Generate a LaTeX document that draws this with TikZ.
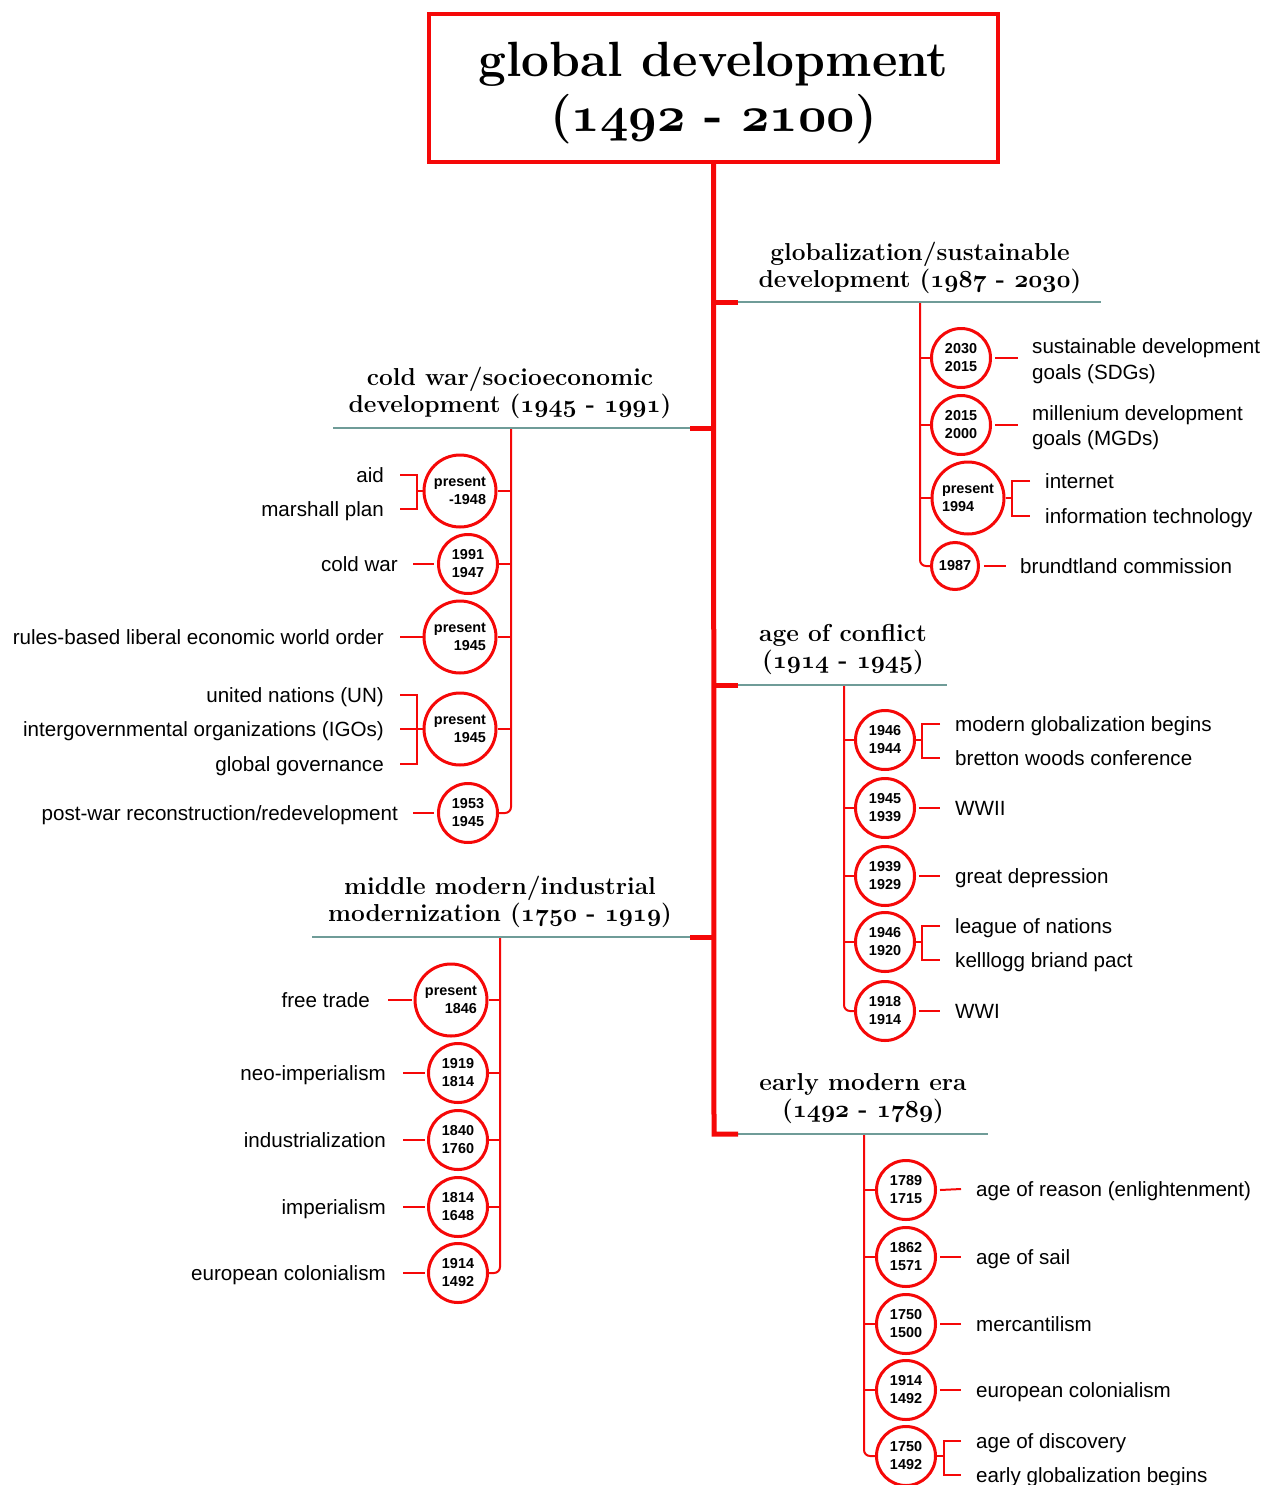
\documentclass[tikz,border=0pt]{standalone}
\usepackage{fix-cm}
\usepackage{fontspec}
\newfontfamily\bodyf{Liberation Sans}
\definecolor{tlred}{rgb}{0.96,0.03,0.03}
\definecolor{tlteal}{HTML}{6F9C98}
\newcommand\osn[1]{{\usefont{OML}{cmm}{b}{it}#1}}
\tikzset{
  trunk/.style={draw=tlred, line width=5pt},
  sub/.style={draw=tlred, line width=2pt},
  rulel/.style={draw=tlteal, line width=2.5pt},
  yrs/.style={circle, draw=tlred, line width=3pt, inner sep=0pt, minimum size=59pt, align=center, font=\bodyf\bfseries\fontsize{14.4}{18}\selectfont},
  yrl/.style={yrs, minimum size=72pt},
  yrt/.style={yrs, minimum size=47pt},
  lbl/.style={inner sep=0pt, text height=16.5pt, text depth=2pt, font=\bodyf\fontsize{20.6}{24}\selectfont},
  head/.style={inner sep=0pt, align=center, font=\bfseries\fontsize{24.5}{27}\selectfont},
}
\begin{document}
\begin{tikzpicture}[x=1pt,y=-1pt]
\useasboundingbox (0,0) rectangle (1263,1485);

% title
\node[draw=tlred, line width=4pt, minimum width=569pt, minimum height=148pt, inner sep=0pt] (title) at (713.5,88) {};
\node[align=center, inner sep=0pt, font=\bfseries\fontsize{49.5}{55}\selectfont] (titletxt) at (title.center)
  [yshift=-5pt] {global development\\(\osn{1492} - \osn{2100})};

% trunk junctions
\coordinate (j1) at (714,302);  \coordinate (s1) at (738,302);
\coordinate (j2) at (714,428);  \coordinate (s2) at (690,428);
\coordinate (j3) at (714,685);  \coordinate (s3) at (738,685);
\coordinate (j4) at (714,937);  \coordinate (s4) at (690,937);
\coordinate (j5) at (714,1134); \coordinate (s5) at (738,1134);
\coordinate (e1) at (1101,302);
\coordinate (e2) at (333,428);
\coordinate (e3) at (947,685);
\coordinate (e4) at (312,937);
\coordinate (e5) at (988,1134);

\draw[rulel] (s1) -- (e1);
\draw[rulel] (s2) -- (e2);
\draw[rulel] (s3) -- (e3);
\draw[rulel] (s4) -- (e4);
\draw[rulel] (s5) -- (e5);

\draw[trunk] (title.south) -- (j5) -- (s5);
\draw[trunk] (j1) -- (s1);
\draw[trunk] (j2) -- (s2);
\draw[trunk] (j3) -- (s3);
\draw[trunk] (j4) -- (s4);

% headings
\node[head] (h1) at (920,268) {globalization/sustainable\\development (\osn{1987} - \osn{2030})};
\node[head] (h2) at (510,393) {cold war/socioeconomic\\development (\osn{1945} - \osn{1991})};
\node[head] (h3) at (843,649) {age of conflict\\(\osn{1914} - \osn{1945})};
\node[head] (h4) at (500,902) {middle modern/industrial\\modernization (\osn{1750} - \osn{1919})};
\node[head] (h5) at (863,1099) {early modern era\\(\osn{1492} - \osn{1789})};

% ---------- group 1: globalization ----------
\coordinate (v1) at (920,303);
\node[yrs] (c11) at (961,358) {2030\\2015};
\node[yrs] (c12) at (961,425) {2015\\2000};
\node[yrl, align=left] (c13) at (968,498) {present\\1994};
\node[yrt] (c14) at (955,566) {1987};
\draw[sub, rounded corners=6pt] (v1) |- (c14.west);
\draw[sub] (v1 |- c11.west) -- (c11.west);
\draw[sub] (v1 |- c12.west) -- (c12.west);
\draw[sub] (v1 |- c13.west) -- (c13.west);

\node[lbl, anchor=west] (t11a) at (1032,346) {sustainable development};
\node[lbl, anchor=west] (t11b) at (1032,372) {goals (SDGs)};
\node[lbl, anchor=west] (t12a) at (1032,413) {millenium development};
\node[lbl, anchor=west] (t12b) at (1032,438) {goals (MGDs)};
\node[lbl, anchor=west] (t13a) at (1045,481) {internet};
\node[lbl, anchor=west] (t13b) at (1045,516) {information technology};
\node[lbl, anchor=west] (t14) at (1020,566) {brundtland commission};

\draw[sub] ([xshift=3pt]c11.east) -- ([xshift=-14pt]t11a.west |- c11.east);
\draw[sub] ([xshift=3pt]c12.east) -- ([xshift=-14pt]t12a.west |- c12.east);
\coordinate (k13) at (1012,498);
\draw[sub] (c13.east) -- (k13);
\draw[sub] ([xshift=-15pt]t13a.west) -| (k13) |- ([xshift=-15pt]t13b.west);
\draw[sub] ([xshift=4pt]c14.east) -- ([xshift=-14pt]t14.west);

% ---------- group 2: cold war ----------
\coordinate (v2) at (511,429);
\node[yrl, align=right] (c21) at (460,491) {present\\-1948};
\node[yrs] (c22) at (468,564) {1991\\1947};
\node[yrl, align=right] (c23) at (460,637) {present\\1945};
\node[yrl, align=right] (c24) at (460,729) {present\\1945};
\node[yrs] (c25) at (468,813) {1953\\1945};
\draw[sub, rounded corners=6pt] (v2) |- (c25.east);
\draw[sub] (v2 |- c21.east) -- (c21.east);
\draw[sub] (v2 |- c22.east) -- (c22.east);
\draw[sub] (v2 |- c23.east) -- (c23.east);
\draw[sub] (v2 |- c24.east) -- (c24.east);

\node[lbl, anchor=east] (t21a) at (384,475) {aid};
\node[lbl, anchor=east] (t21b) at (384,509) {marshall plan};
\node[lbl, anchor=east] (t22) at (398,564) {cold war};
\node[lbl, anchor=east] (t23) at (384,637) {rules-based liberal economic world order};
\node[lbl, anchor=east] (t24a) at (384,695) {united nations (UN)};
\node[lbl, anchor=east] (t24b) at (384,729) {intergovernmental organizations (IGOs)};
\node[lbl, anchor=east] (t24c) at (384,764) {global governance};
\node[lbl, anchor=east] (t25) at (398,813) {post-war reconstruction/redevelopment};

\coordinate (k21) at (417,491);
\draw[sub] (k21) -- (c21.west);
\draw[sub] ([xshift=16pt]t21a.east) -| (k21) |- ([xshift=16pt]t21b.east);
\draw[sub] ([xshift=15pt]t22.east) -- ([xshift=-3pt]c22.west);
\draw[sub] ([xshift=16pt]t23.east) -- (c23.west);
\coordinate (k24) at (417,729);
\draw[sub] ([xshift=16pt]t24b.east) -- (c24.west);
\draw[sub] ([xshift=16pt]t24a.east) -| (k24) |- ([xshift=16pt]t24c.east);
\draw[sub] ([xshift=15pt]t25.east) -- ([xshift=-3pt]c25.west);

% ---------- group 3: age of conflict ----------
\coordinate (v3) at (844,686);
\node[yrs] (c31) at (885,740) {1946\\1944};
\node[yrs] (c32) at (885,808) {1945\\1939};
\node[yrs] (c33) at (885,876) {1939\\1929};
\node[yrs] (c34) at (885,942) {1946\\1920};
\node[yrs] (c35) at (885,1011) {1918\\1914};
\draw[sub, rounded corners=6pt] (v3) |- (c35.west);
\draw[sub] (v3 |- c31.west) -- (c31.west);
\draw[sub] (v3 |- c32.west) -- (c32.west);
\draw[sub] (v3 |- c33.west) -- (c33.west);
\draw[sub] (v3 |- c34.west) -- (c34.west);

\node[lbl, anchor=west] (t31a) at (955,724) {modern globalization begins};
\node[lbl, anchor=west] (t31b) at (955,758) {bretton woods conference};
\node[lbl, anchor=west] (t32) at (955,808) {WWII};
\node[lbl, anchor=west] (t33) at (955,876) {great depression};
\node[lbl, anchor=west] (t34a) at (955,926) {league of nations};
\node[lbl, anchor=west] (t34b) at (955,960) {kelllogg briand pact};
\node[lbl, anchor=west] (t35) at (955,1011) {WWI};

\coordinate (k31) at (922,740);
\draw[sub] (c31.east) -- (k31);
\draw[sub] ([xshift=-15pt]t31a.west) -| (k31) |- ([xshift=-15pt]t31b.west);
\draw[sub] ([xshift=3pt]c32.east) -- ([xshift=-15pt]t32.west);
\draw[sub] ([xshift=3pt]c33.east) -- ([xshift=-15pt]t33.west);
\coordinate (k34) at (922,942);
\draw[sub] (c34.east) -- (k34);
\draw[sub] ([xshift=-15pt]t34a.west) -| (k34) |- ([xshift=-15pt]t34b.west);
\draw[sub] ([xshift=3pt]c35.east) -- ([xshift=-15pt]t35.west);

% ---------- group 4: middle modern ----------
\coordinate (v4) at (500,938);
\node[yrl, align=right] (c41) at (451,1000) {present\\1846};
\node[yrs] (c42) at (458,1073) {1919\\1814};
\node[yrs] (c43) at (458,1140) {1840\\1760};
\node[yrs] (c44) at (458,1207) {1814\\1648};
\node[yrs] (c45) at (458,1273) {1914\\1492};
\draw[sub, rounded corners=6pt] (v4) |- (c45.east);
\draw[sub] (v4 |- c41.east) -- (c41.east);
\draw[sub] (v4 |- c42.east) -- (c42.east);
\draw[sub] (v4 |- c43.east) -- (c43.east);
\draw[sub] (v4 |- c44.east) -- (c44.east);

\node[lbl, anchor=east] (t41) at (370,1000) {free trade};
\node[lbl, anchor=east] (t42) at (386,1073) {neo-imperialism};
\node[lbl, anchor=east] (t43) at (386,1140) {industrialization};
\node[lbl, anchor=east] (t44) at (386,1207) {imperialism};
\node[lbl, anchor=east] (t45) at (386,1273) {european colonialism};

\draw[sub] ([xshift=18pt]t41.east) -- ([xshift=-2pt]c41.west);
\draw[sub] ([xshift=17pt]t42.east) -- ([xshift=-2pt]c42.west);
\draw[sub] ([xshift=17pt]t43.east) -- ([xshift=-2pt]c43.west);
\draw[sub] ([xshift=17pt]t44.east) -- ([xshift=-2pt]c44.west);
\draw[sub] ([xshift=17pt]t45.east) -- ([xshift=-2pt]c45.west);

% ---------- group 5: early modern ----------
\coordinate (v5) at (864,1135);
\node[yrs] (c51) at (906,1190) {1789\\1715};
\node[yrs] (c52) at (906,1257) {1862\\1571};
\node[yrs] (c53) at (906,1324) {1750\\1500};
\node[yrs] (c54) at (906,1390) {1914\\1492};
\node[yrs] (c55) at (906,1456) {1750\\1492};
\draw[sub, rounded corners=6pt] (v5) |- (c55.west);
\draw[sub] (v5 |- c51.west) -- (c51.west);
\draw[sub] (v5 |- c52.west) -- (c52.west);
\draw[sub] (v5 |- c53.west) -- (c53.west);
\draw[sub] (v5 |- c54.west) -- (c54.west);

\node[lbl, anchor=west] (t51) at (976,1189) {age of reason (enlightenment)};
\node[lbl, anchor=west] (t52) at (976,1257) {age of sail};
\node[lbl, anchor=west] (t53) at (976,1324) {mercantilism};
\node[lbl, anchor=west] (t54) at (976,1390) {european colonialism};
\node[lbl, anchor=west] (t55a) at (976,1441) {age of discovery};
\node[lbl, anchor=west] (t55b) at (976,1475) {early globalization begins};

\draw[sub] ([xshift=3pt]c51.east) -- ([xshift=-15pt]t51.west);
\draw[sub] ([xshift=3pt]c52.east) -- ([xshift=-15pt]t52.west);
\draw[sub] ([xshift=3pt]c53.east) -- ([xshift=-15pt]t53.west);
\draw[sub] ([xshift=3pt]c54.east) -- ([xshift=-15pt]t54.west);
\coordinate (k55) at (944,1456);
\draw[sub] (c55.east) -- (k55);
\draw[sub] ([xshift=-15pt]t55a.west) -| (k55) |- ([xshift=-15pt]t55b.west);
\end{tikzpicture}
\end{document}
